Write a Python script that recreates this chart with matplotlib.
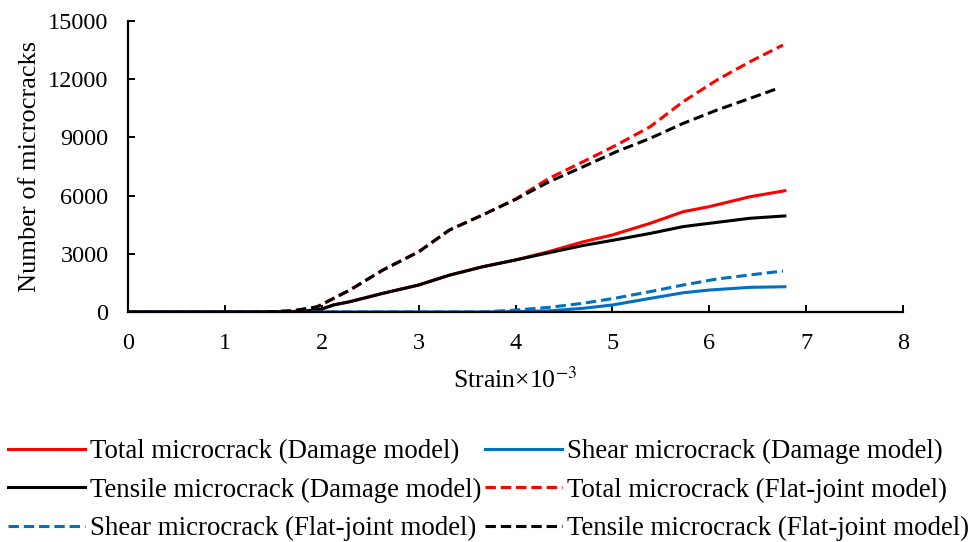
import numpy as np
import matplotlib
matplotlib.use('Agg')
import matplotlib.pyplot as plt

plt.rcParams['font.family'] = ['Liberation Serif', 'DejaVu Serif']
plt.rcParams['mathtext.fontset'] = 'stix'

# Damage model (strain x 10^-3 vs crack count)
strain_dm = [0, 1.0, 1.5, 1.8, 2.0, 2.12, 2.29, 2.63, 3.0, 3.32, 3.66, 4.0,
             4.35, 4.70, 5.0, 5.39, 5.73, 6.0, 6.42, 6.78]
total_dm = [0, 0, 0, 30, 150, 360, 530, 960, 1390, 1900, 2330, 2680,
            3120, 3620, 3970, 4570, 5170, 5430, 5940, 6250]
tensile_dm = [0, 0, 0, 30, 150, 360, 530, 960, 1390, 1900, 2330, 2680,
              3060, 3430, 3690, 4050, 4400, 4570, 4830, 4950]
shear_dm = [0, 0, 0, 0, 0, 0, 0, 0, 0, 0, 0, 20,
            60, 190, 360, 700, 990, 1130, 1270, 1300]

# Flat-joint model
strain_fj = [0, 1.0, 1.4, 1.7, 1.95, 2.29, 2.63, 3.0, 3.32, 3.66, 4.0,
             4.35, 4.70, 5.04, 5.39, 5.73, 6.08, 6.42, 6.76]
strain_fj_tensile = strain_fj[:-1] + [6.71]
total_fj = [0, 0, 0, 60, 260, 1130, 2160, 3100, 4230, 5000, 5820,
            6900, 7750, 8600, 9550, 10840, 11960, 12900, 13760]
tensile_fj = [0, 0, 0, 60, 260, 1130, 2160, 3100, 4230, 5000, 5800,
              6720, 7490, 8260, 8950, 9720, 10410, 11010, 11530]
shear_fj = [0, 0, 0, 0, 0, 0, 0, 0, 0, 0, 100,
            240, 450, 720, 1050, 1390, 1700, 1910, 2110]

RED = '#FF0000'
BLUE = '#0070C0'
lw = 2.2
dash = (3.4, 1.6)

fig = plt.figure(figsize=(9.71, 5.42), dpi=100)
ax = fig.add_axes([0.1318, 0.4244, 0.7982, 0.5369])

h_tot_dm, = ax.plot(strain_dm, total_dm, color=RED, lw=lw)
h_she_dm, = ax.plot(strain_dm, shear_dm, color=BLUE, lw=lw)
h_ten_dm, = ax.plot(strain_dm, tensile_dm, color='black', lw=lw)
h_tot_fj, = ax.plot(strain_fj, total_fj, color=RED, lw=lw, dashes=dash)
h_she_fj, = ax.plot(strain_fj, shear_fj, color=BLUE, lw=lw, dashes=dash)
h_ten_fj, = ax.plot(strain_fj_tensile, tensile_fj, color='black', lw=lw, dashes=dash)

ax.set_xlim(0, 8)
ax.set_ylim(0, 15000)
ax.set_xticks(np.arange(0, 9, 1))
ax.set_yticks(np.arange(0, 15001, 3000))
ax.spines['top'].set_visible(False)
ax.spines['right'].set_visible(False)
ax.spines['left'].set_linewidth(1.6)
ax.spines['bottom'].set_linewidth(1.6)
ax.tick_params(axis='both', direction='in', length=5, width=1.4, labelsize=17.5)
ax.tick_params(axis='x', pad=15)
ax.tick_params(axis='y', pad=14)

ax.set_xlabel('Strain×10$^{-3}$', fontsize=18.5, labelpad=10)
ax.set_ylabel('Number of microcracks', fontsize=19, labelpad=5)

handles = [h_tot_dm, h_ten_dm, h_she_fj, h_she_dm, h_tot_fj, h_ten_fj]
labels = ['Total microcrack (Damage model)', 'Tensile microcrack (Damage model)',
          'Shear microcrack (Flat-joint model)', 'Shear microcrack (Damage model)',
          'Total microcrack (Flat-joint model)', 'Tensile microcrack (Flat-joint model)']
fig.legend(handles, labels, ncol=2, frameon=False, fontsize=19.4,
           loc='upper left', bbox_to_anchor=(0.008, 0.19),
           handlelength=2.86, handletextpad=0.18, columnspacing=0.15,
           labelspacing=0.5, borderpad=0, borderaxespad=0)

fig.savefig('out.png', dpi=100)
